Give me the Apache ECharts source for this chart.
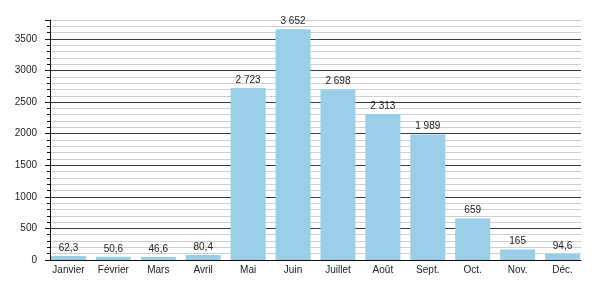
<!DOCTYPE html>
<html>
<head>
<meta charset="utf-8">
<script src="https://cdn.jsdelivr.net/npm/echarts@6/dist/echarts.min.js"></script>
<style>html,body{margin:0;padding:0;background:#fff}#c{width:600px;height:300px}</style>
</head>
<body>
<div id="c"></div>
<script>
var categories = ['Janvier','Février','Mars','Avril','Mai','Juin','Juillet','Août','Sept.','Oct.','Nov.','Déc.'];
var values = [62.3, 50.6, 46.6, 80.4, 2723, 3652, 2698, 2313, 1989, 659, 165, 94.6];
var yMax = 3800;
var majorStep = 500;
var minorStep = 100;

function frNum(v) {
  var s = String(v).split('.');
  var ip = s[0].replace(/\B(?=(\d{3})+(?!\d))/g, ' ');
  return s.length > 1 ? ip + ',' + s[1] : ip;
}

var FONT = 'Liberation Sans';
var nLines = Math.round(yMax / minorStep) + 1;
var lineColors = [];
for (var i = 0; i < nLines; i++) {
  lineColors.push((i * minorStep) % majorStep === 0 ? '#3a3a3a' : '#cfcfcf');
}

var chart = echarts.init(document.getElementById('c'), null, {renderer: 'canvas'});
chart.setOption({
  animation: false,
  textStyle: {fontFamily: FONT},
  grid: [
    {left: 50, right: 19, top: 20, bottom: 40},
    {left: 46, right: 15, top: 20, bottom: 40}
  ],
  xAxis: [
    {type: 'category', gridIndex: 0, data: categories,
     axisLine: {show: true, lineStyle: {color: '#111', width: 1}},
     axisTick: {show: false}, axisLabel: {show: false}, splitLine: {show: false}},
    {type: 'category', gridIndex: 1, data: categories,
     axisLine: {show: false}, axisTick: {show: false},
     axisLabel: {color: '#222', fontSize: 10, fontFamily: FONT, margin: 5}}
  ],
  yAxis: [
    {type: 'value', gridIndex: 0, min: 0, max: yMax, interval: minorStep,
     axisLine: {show: true, lineStyle: {color: '#111'}},
     axisTick: {show: true, length: 3, lineStyle: {color: '#111'}},
     axisLabel: {color: '#222', fontSize: 10, fontFamily: FONT, margin: 13,
       formatter: function (v) { return v % majorStep === 0 ? String(v) : ''; }},
     splitLine: {show: true, lineStyle: {color: lineColors, width: 1}}},
    {type: 'value', gridIndex: 0, min: 0, max: yMax, interval: majorStep, position: 'left',
     axisLine: {show: false},
     axisTick: {show: true, length: 5, lineStyle: {color: '#111'}},
     axisLabel: {show: false}, splitLine: {show: false}},
    {type: 'value', gridIndex: 1, min: 0, max: yMax, show: false}
  ],
  series: [{
    type: 'bar', xAxisIndex: 1, yAxisIndex: 2, data: values,
    barWidth: 35,
    itemStyle: {color: '#9acde6'},
    label: {show: true, position: 'top', distance: 3, color: '#222', fontSize: 10, fontFamily: FONT,
      formatter: function (p) { return frNum(p.value); }},
    z: 3
  }]
});
</script>
</body>
</html>
